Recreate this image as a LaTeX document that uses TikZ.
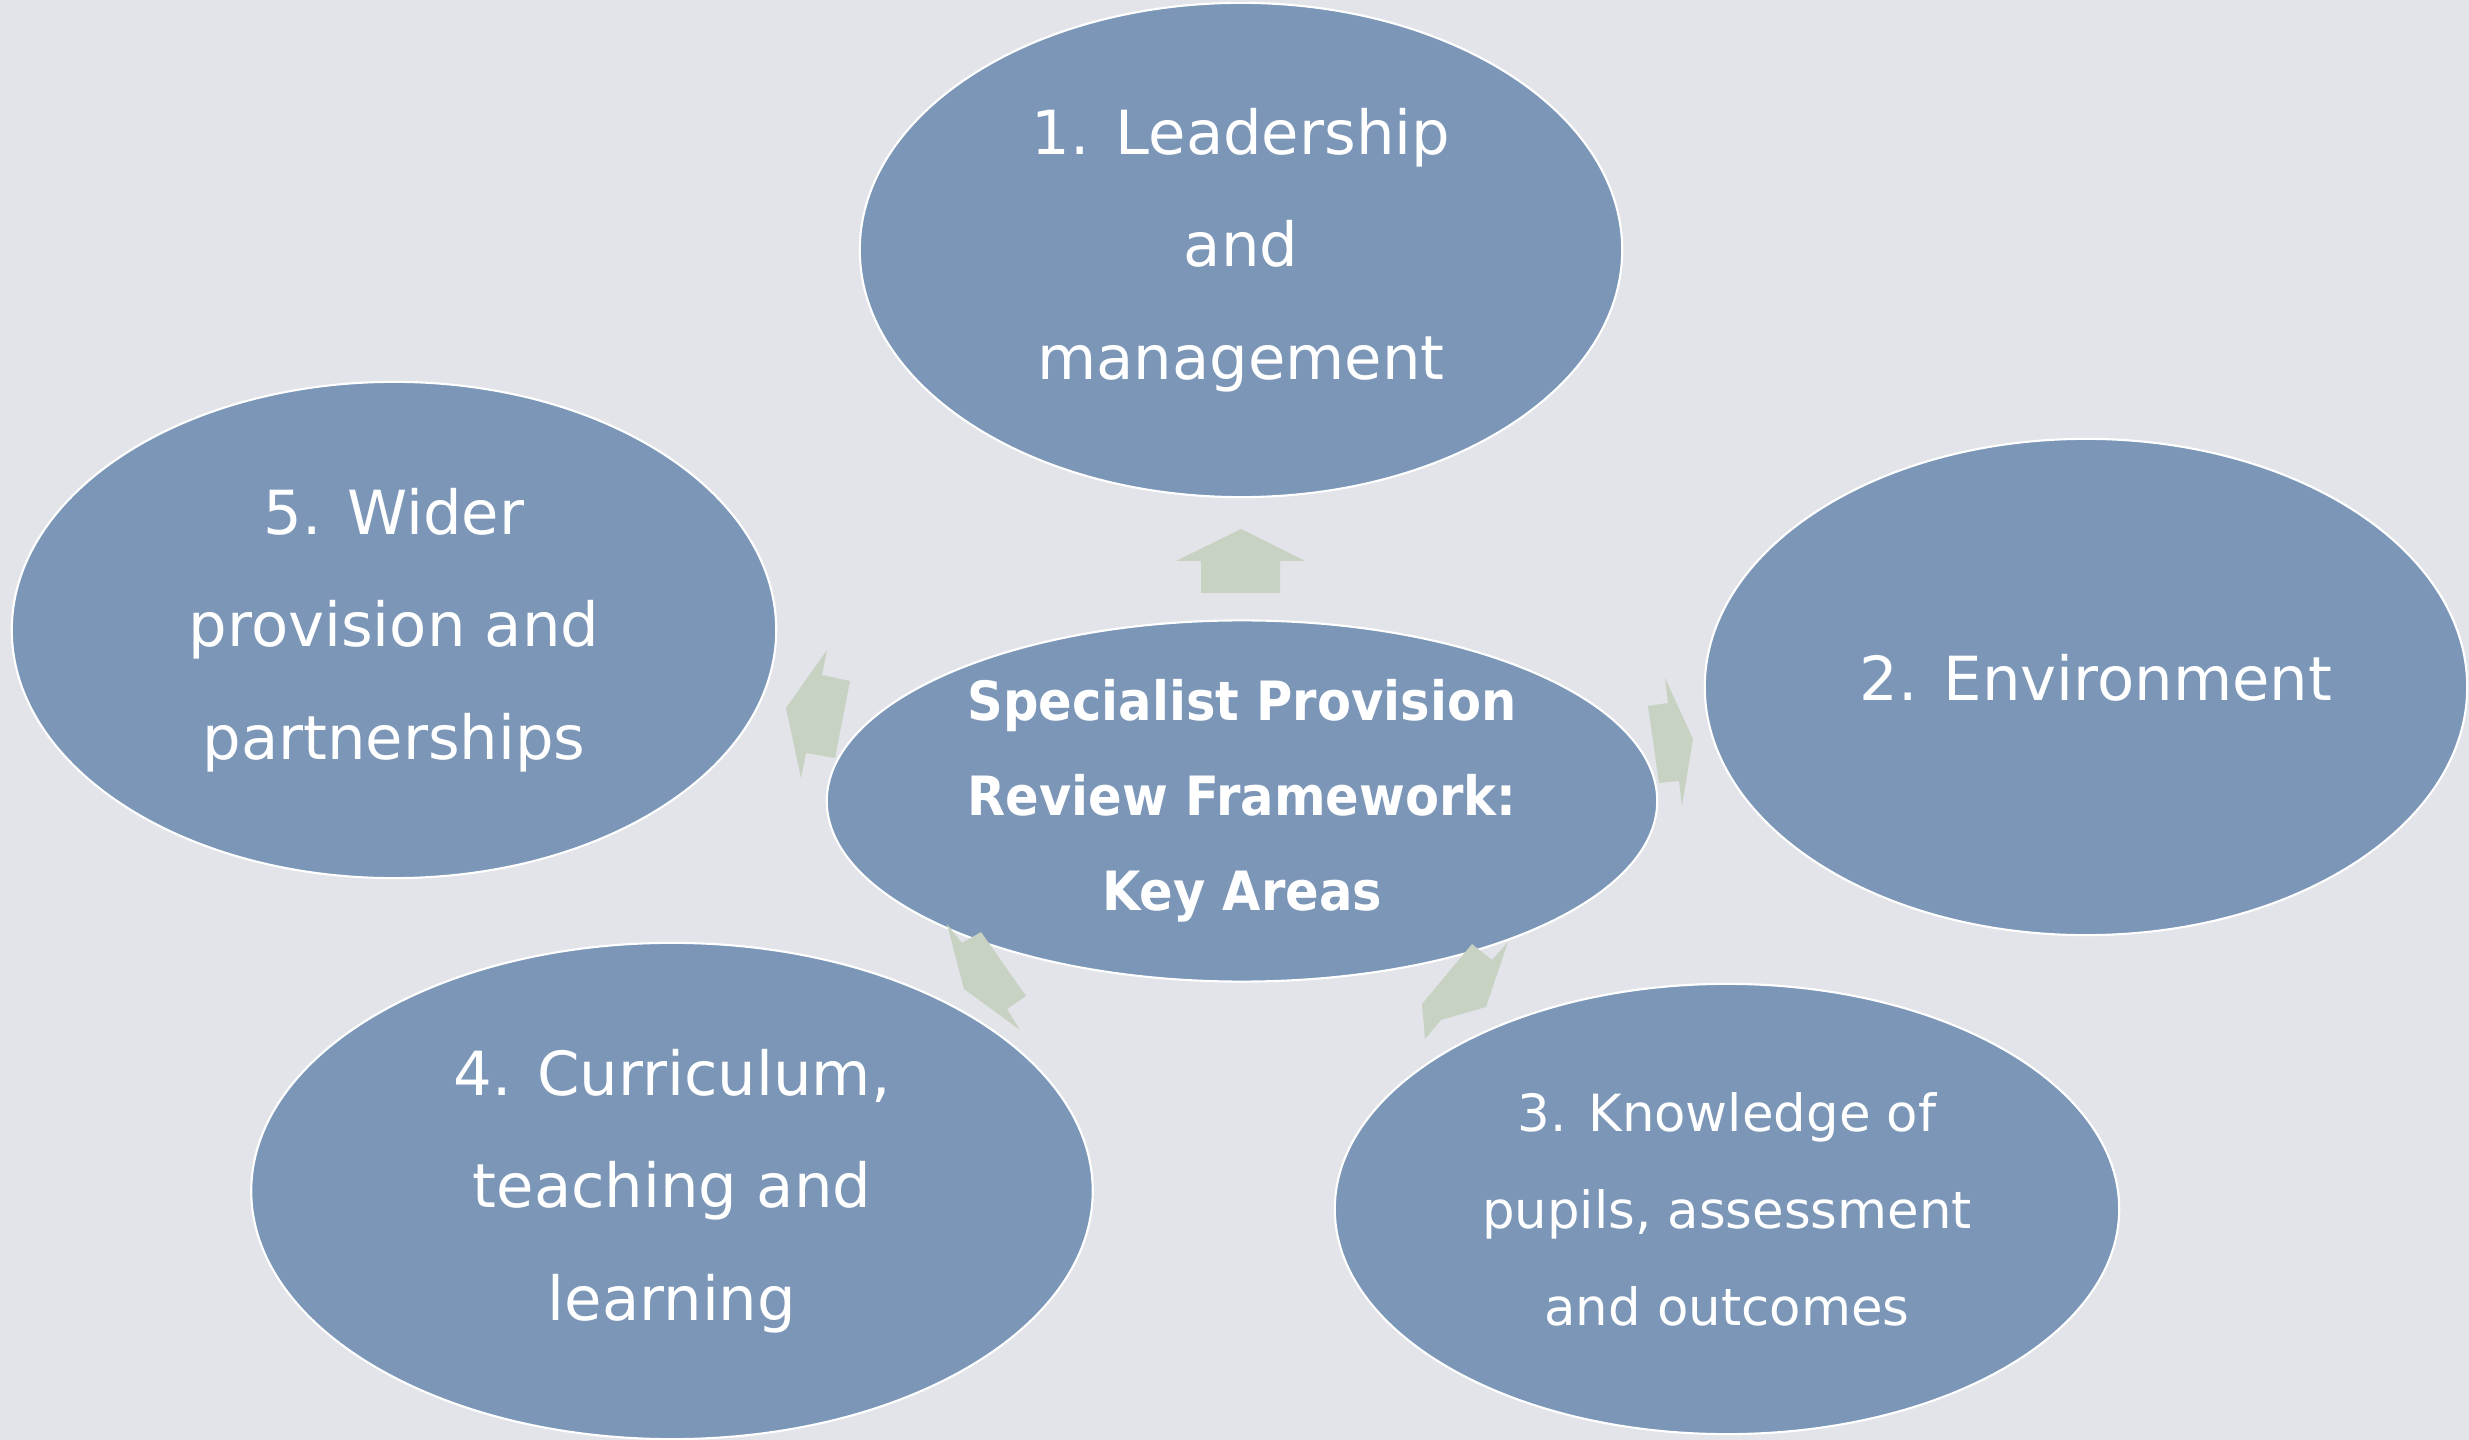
\documentclass[tikz,border=0pt]{standalone}
\usepackage{fontspec}
\setmainfont{DejaVu Sans}
\newfontfamily\centerfont[FakeStretch=0.915]{DejaVu Sans}
\usetikzlibrary{shapes.geometric}
\definecolor{bgcol}{RGB}{226,228,233}
\definecolor{ellcol}{RGB}{123,150,183}
\definecolor{arrcol}{RGB}{199,210,195}
\tikzset{
  area/.style={ellipse, fill=ellcol, draw=white, line width=0.6pt, inner sep=0pt,
    text=white, align=center},
  bigtxt/.style={font=\fontsize{17.3}{32}\selectfont},
  smalltxt/.style={font=\fontsize{14.6}{27.6}\selectfont},
  hubtxt/.style={font=\centerfont\bfseries\fontsize{15.4}{27}\selectfont},
  arr/.style={fill=arrcol}
}
\begin{document}
\begin{tikzpicture}[x=0.01cm,y=-0.01cm]
\fill[bgcol] (0,0) rectangle (2469,1440);
\useasboundingbox (0,0) rectangle (2469,1440);
% ellipses
\node[area, bigtxt, minimum width=7.62cm, minimum height=4.94cm] (lead) at (1241,250) {1. Leadership\\and\\management};
\node[area, bigtxt, minimum width=7.64cm, minimum height=4.96cm] (wider) at (394,630) {5. Wider\\provision and\\partnerships};
\node[area, bigtxt, minimum width=7.62cm, minimum height=4.96cm] (env) at (2086,687) {\hspace*{0.2cm}\raisebox{0.09cm}[\height][\depth]{2. Environment}};
\node[area, smalltxt, minimum width=7.84cm, minimum height=4.50cm] (know) at (1727,1209) {3. Knowledge of\\pupils, assessment\\and outcomes};
\node[area, bigtxt, minimum width=8.41cm, minimum height=4.96cm] (curr) at (672,1191) {4. Curriculum,\\teaching and\\learning};
\node[area, hubtxt, minimum width=8.30cm, minimum height=3.61cm] (hub) at (1242,801) {Specialist Provision\\Review Framework:\\Key Areas};
% arrows
\fill[arr] (1241,529) -- (1305,561) -- (1280,561) -- (1280,593) -- (1201,593) -- (1201,561) -- (1176,561) -- cycle;
\fill[arr] (786,708) -- (827,650) -- (822,675) -- (850,681) -- (835,758) -- (806,753) -- (801,778) -- cycle;
\fill[arr] (1693,739) -- (1682,806) -- (1679,781) -- (1659,783) -- (1648,706) -- (1668,703) -- (1665,678) -- cycle;
\fill[arr] (947,924) -- (962,943) -- (981,932) -- (1026,996) -- (1007,1009) -- (1020,1030) -- (964,989) -- cycle;
\fill[arr] (1472,944) -- (1492,960) -- (1508,942) -- (1486,1007) -- (1441,1020) -- (1425,1039) -- (1422,1004) -- cycle;
\end{tikzpicture}
\end{document}
